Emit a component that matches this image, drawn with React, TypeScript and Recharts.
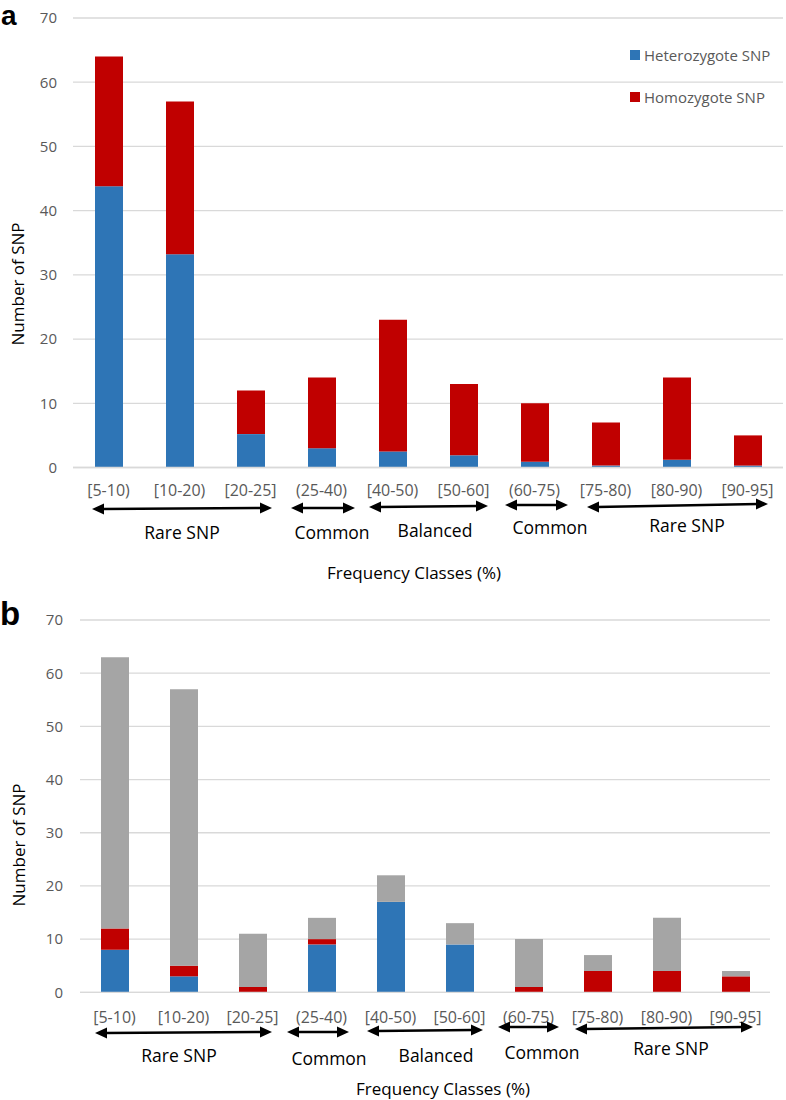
import React from 'react';
import { BarChart, Bar, XAxis, YAxis, CartesianGrid } from 'recharts';

const categories = ['[5-10)', '[10-20)', '[20-25]', '(25-40)', '[40-50)', '[50-60]', '(60-75)', '[75-80)', '[80-90)', '[90-95]'];

// Panel a
const heteroA = [43.8, 33.2, 5.2, 3.0, 2.5, 1.9, 0.9, 0.3, 1.2, 0.3];
const homoA = [20.2, 23.8, 6.8, 11.0, 20.5, 11.1, 9.1, 6.7, 12.8, 4.7];

// Panel b
const blueB = [8, 3, 0, 9, 17, 9, 0, 0, 0, 0];
const redB = [4, 2, 1, 1, 0, 0, 1, 4, 4, 3];
const grayB = [51, 52, 10, 4, 5, 4, 9, 3, 10, 1];

const yTicks = [0, 10, 20, 30, 40, 50, 60, 70];

const legendNames = ['Heterozygote SNP', 'Homozygote SNP'];

const BLUE = '#2E75B6';
const RED = '#C00000';
const GRAY = '#A5A5A5';
const TICK = '#595959';
const GRID = '#D9D9D9';
const FONT = "'Open Sans', sans-serif";

const dataA = categories.map((c, i) => ({ cat: c, hetero: heteroA[i], homo: homoA[i] }));
const dataB = categories.map((c, i) => ({ cat: c, blue: blueB[i], red: redB[i], gray: grayB[i] }));

// annotation layout (arrows and group labels)
const groupsA = [
  { label: 'Rare SNP', x1: 92, x2: 272, y1: 509, y2: 508, lx: 182, ly: 532 },
  { label: 'Common', x1: 291, x2: 355, y1: 508, y2: 508, lx: 332, ly: 532 },
  { label: 'Balanced', x1: 369, x2: 488, y1: 507, y2: 506, lx: 435, ly: 530 },
  { label: 'Common', x1: 505, x2: 568, y1: 505, y2: 505, lx: 550, ly: 527 },
  { label: 'Rare SNP', x1: 587, x2: 768, y1: 507, y2: 504, lx: 687, ly: 525 },
];
const groupsB = [
  { label: 'Rare SNP', x1: 95, x2: 272, y1: 1033, y2: 1032, lx: 179, ly: 1055 },
  { label: 'Common', x1: 287, x2: 349, y1: 1032, y2: 1032, lx: 329, ly: 1058 },
  { label: 'Balanced', x1: 367, x2: 483, y1: 1031, y2: 1030, lx: 436, ly: 1055 },
  { label: 'Common', x1: 498, x2: 559, y1: 1027, y2: 1027, lx: 542, ly: 1052 },
  { label: 'Rare SNP', x1: 575, x2: 753, y1: 1029, y2: 1027, lx: 671, ly: 1048 },
];

function Arrow({ x1, x2, y1, y2 }: { x1: number; x2: number; y1: number; y2: number }) {
  const h = 12;
  const w = 5.5;
  return (
    <g>
      <line x1={x1 + h - 2} y1={y1} x2={x2 - h + 2} y2={y2} stroke="#000" strokeWidth={2.6} />
      <polygon points={`${x1},${y1} ${x1 + h},${y1 - w} ${x1 + h},${y1 + w}`} fill="#000" />
      <polygon points={`${x2},${y2} ${x2 - h},${y2 - w} ${x2 - h},${y2 + w}`} fill="#000" />
    </g>
  );
}

function LegendA() {
  const colors = [BLUE, RED];
  return (
    <div style={{ position: 'absolute', left: 630, top: 34, fontFamily: FONT, fontSize: 15, color: TICK }}>
      {legendNames.map((name, i) => (
        <div key={name} style={{ display: 'flex', alignItems: 'center', height: 42 }}>
          <div style={{ width: 10, height: 10, background: colors[i], marginRight: 4 }} />
          <span>{name}</span>
        </div>
      ))}
    </div>
  );
}

export default function App() {
  const xTickStyle = { fill: TICK, fontSize: 16, fontFamily: FONT };
  const yTickStyle = { fill: TICK, fontSize: 15, fontFamily: FONT };
  return (
    <div style={{ position: 'absolute', left: 0, top: 0, width: 786, height: 1100, background: '#fff', overflow: 'hidden' }}>
      <div style={{ position: 'absolute', left: 0, top: 0 }}>
        <BarChart width={786} height={600} data={dataA} margin={{ top: 18, right: 3, left: 13, bottom: 102.5 }} barSize={28}>
          <CartesianGrid vertical={false} stroke={GRID} strokeWidth={1.3} />
          <XAxis dataKey="cat" height={30} tickLine={false} axisLine={{ stroke: GRID, strokeWidth: 1.3 }} tick={xTickStyle} tickMargin={11.5} interval={0} />
          <YAxis width={60} domain={[0, 70]} ticks={yTicks} tickLine={false} axisLine={false} tick={yTickStyle} tickMargin={10} />
          <Bar dataKey="hetero" name="Heterozygote SNP" stackId="s" fill={BLUE} isAnimationActive={false} />
          <Bar dataKey="homo" name="Homozygote SNP" stackId="s" fill={RED} isAnimationActive={false} />
        </BarChart>
      </div>
      <LegendA />
      <div style={{ position: 'absolute', left: 0, top: 600 }}>
        <BarChart width={786} height={500} data={dataB} margin={{ top: 20, right: 16, left: 20, bottom: 77.7 }} barSize={28}>
          <CartesianGrid vertical={false} stroke={GRID} strokeWidth={1.3} />
          <XAxis dataKey="cat" height={30} tickLine={false} axisLine={{ stroke: GRID, strokeWidth: 1.3 }} tick={xTickStyle} tickMargin={13} interval={0} />
          <YAxis width={60} domain={[0, 70]} ticks={yTicks} tickLine={false} axisLine={false} tick={yTickStyle} tickMargin={11} />
          <Bar dataKey="blue" name="Heterozygote" stackId="s" fill={BLUE} isAnimationActive={false} />
          <Bar dataKey="red" name="Homozygote" stackId="s" fill={RED} isAnimationActive={false} />
          <Bar dataKey="gray" name="Other" stackId="s" fill={GRAY} isAnimationActive={false} />
        </BarChart>
      </div>
      <svg width={786} height={1100} style={{ position: 'absolute', left: 0, top: 0, pointerEvents: 'none' }}>
        <text x={1} y={25} fontFamily="'Liberation Sans', Arial, sans-serif" fontWeight="bold" fontSize={28} fill="#000">a</text>
        <text x={0} y={625} fontFamily="'Liberation Sans', Arial, sans-serif" fontWeight="bold" fontSize={33} fill="#000">b</text>
        <text transform="translate(17,284) rotate(-90)" textAnchor="middle" dominantBaseline="central" fontFamily={FONT} fontSize={17} fill="#000">Number of SNP</text>
        <text transform="translate(18,845) rotate(-90)" textAnchor="middle" dominantBaseline="central" fontFamily={FONT} fontSize={17} fill="#000">Number of SNP</text>
        <text x={414} y={572} textAnchor="middle" dominantBaseline="central" fontFamily={FONT} fontSize={17} fill="#000">Frequency Classes (%)</text>
        <text x={443} y={1088} textAnchor="middle" dominantBaseline="central" fontFamily={FONT} fontSize={17} fill="#000">Frequency Classes (%)</text>
        {groupsA.map((g, i) => (
          <g key={'a' + i}>
            <Arrow x1={g.x1} x2={g.x2} y1={g.y1} y2={g.y2} />
            <text x={g.lx} y={g.ly} textAnchor="middle" dominantBaseline="central" fontFamily={FONT} fontSize={17.5} fill="#000">{g.label}</text>
          </g>
        ))}
        {groupsB.map((g, i) => (
          <g key={'b' + i}>
            <Arrow x1={g.x1} x2={g.x2} y1={g.y1} y2={g.y2} />
            <text x={g.lx} y={g.ly} textAnchor="middle" dominantBaseline="central" fontFamily={FONT} fontSize={17.5} fill="#000">{g.label}</text>
          </g>
        ))}
      </svg>
    </div>
  );
}
